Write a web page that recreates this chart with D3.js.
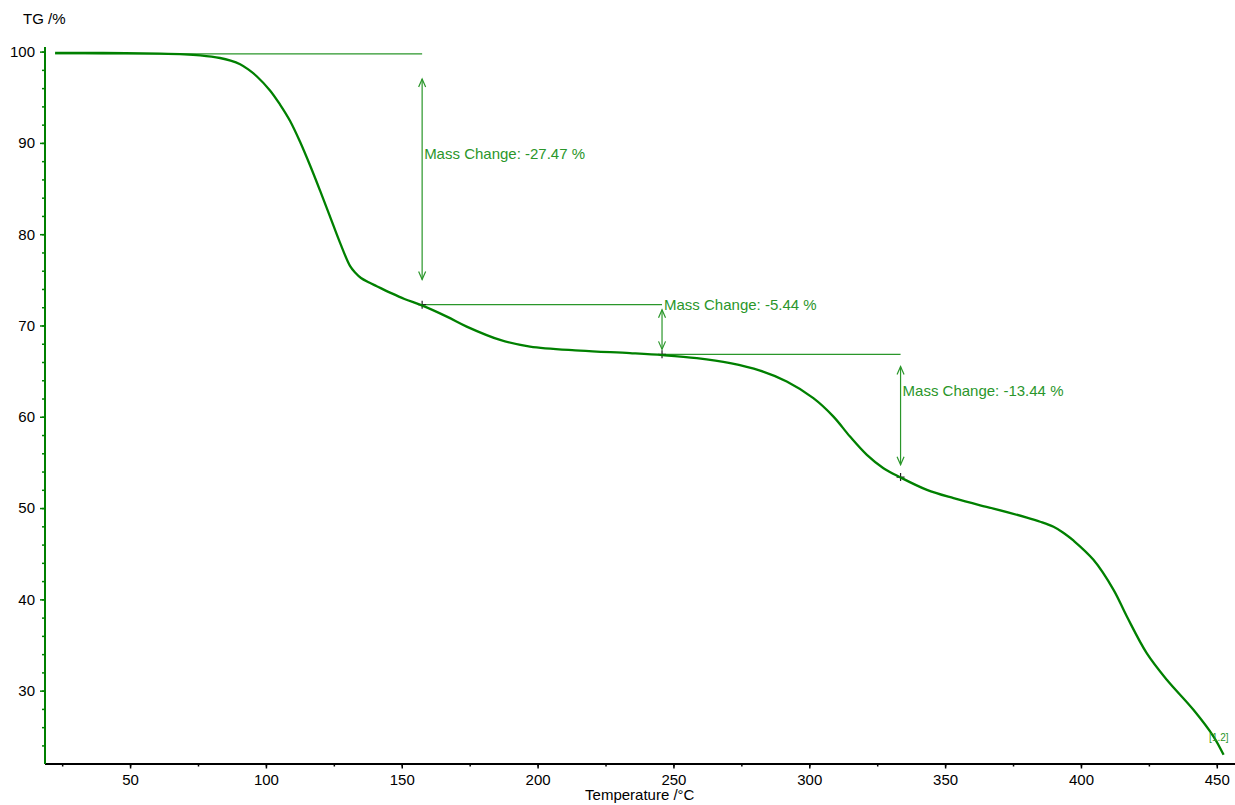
<!DOCTYPE html>
<html>
<head>
<meta charset="utf-8">
<script src="https://cdn.jsdelivr.net/npm/d3@7"></script>
<style>
  body { margin: 0; background: #fff; }
  svg { display: block; font-family: Arial, "Liberation Sans", sans-serif; }
</style>
</head>
<body>
<div id="container"></div>
<script>
/**
 * DATA
 * */
const temps = [22.4, 40, 61.0, 70, 75.8, 83.1, 87, 90.5, 93.5, 96.6, 101.5, 105.2, 108.9, 112.6, 116.3, 119.9,
  123.6, 127.3, 131.0, 133, 135, 138, 140.8, 145.7, 151, 157.4, 166.6, 173.9, 186.2, 197.2, 215.6, 234.0,
  246.1, 258.6, 270.9, 281.9, 291.7, 301.5, 308.9, 315.0, 321.2, 327.3, 333.4, 343.3, 353.1, 362.9,
  367.8, 380.1, 385, 389.9, 393.5, 397.2, 404.6, 412.0, 416.9, 424.2, 431.6, 441.4, 448.8, 452.5];
const mass = [99.86, 99.85, 99.78, 99.7, 99.58, 99.3, 99.02, 98.62, 98.05, 97.3, 95.75, 94.2, 92.4, 90.1, 87.5, 84.8,
  81.93, 79.05, 76.5, 75.75, 75.2, 74.7, 74.3, 73.6, 72.9, 72.2, 70.97, 69.88, 68.42, 67.69, 67.25, 66.97,
  66.75, 66.42, 65.87, 65.05, 63.86, 62.04, 60.02, 57.83, 55.83, 54.37, 53.38, 51.99, 51.08, 50.3,
  49.95, 48.95, 48.5, 47.95, 47.3, 46.45, 44.33, 41.04, 38.12, 34.11, 31.19, 27.90, 24.97, 22.97];

// mass change steps: start temp, end temp, level at start, change
const stepStart = [22.4, 157.5, 245.8];
const stepEnd = [157.5, 245.8, 333.6];
const stepLevel = [99.75, 72.28, 66.84];
const stepChange = [-27.47, -5.44, -13.44];
const labelLevels = [88.85, 72.3, 62.86];

const xTicks = [50, 100, 150, 200, 250, 300, 350, 400, 450];
const xMinor = d3.range(25, 451, 25);
const yTicks = [30, 40, 50, 60, 70, 80, 90, 100];
const yMinor = d3.range(24, 101, 2);

/**
 * CONSTANTS
 * */
const width = 1235, height = 805;
const lineColor = "#008000", noteColor = "#2a962a";

const svg = d3.select("#container").append("svg")
  .attr("width", width).attr("height", height);

const x = d3.scaleLinear().domain([18.5, 456.7]).range([44.5, 1235]);
const y = d3.scaleLinear().domain([22.02, 100.56]).range([763.5, 46.5]);

// minor ticks first
svg.append("g")
  .attr("transform", `translate(0,${y.range()[0]})`)
  .call(d3.axisBottom(x).tickValues(xMinor).tickSize(3).tickFormat(""))
  .call(g => g.select(".domain").remove())
  .call(g => g.selectAll("line").attr("stroke", "#000").attr("stroke-width", 1.5));

svg.append("g")
  .attr("transform", `translate(${x.range()[0]},0)`)
  .call(d3.axisLeft(y).tickValues(yMinor).tickSize(2.5).tickFormat(""))
  .call(g => g.select(".domain").remove())
  .call(g => g.selectAll("line").attr("stroke", lineColor).attr("stroke-width", 1.5));

// x axis
svg.append("g")
  .attr("transform", `translate(0,${y.range()[0]})`)
  .call(d3.axisBottom(x).tickValues(xTicks).tickSize(5).tickSizeOuter(0).tickPadding(6))
  .call(g => g.select(".domain").attr("stroke", "#000").attr("stroke-width", 2))
  .call(g => g.selectAll(".tick line").attr("stroke", "#000").attr("stroke-width", 1.5))
  .call(g => g.selectAll("text").attr("font-size", 15).attr("fill", "#000")
    .attr("font-family", "Arial, 'Liberation Sans', sans-serif"));

// y axis (green like the curve)
svg.append("g")
  .attr("transform", `translate(${x.range()[0]},0)`)
  .call(d3.axisLeft(y).tickValues(yTicks).tickSize(4.5).tickSizeOuter(0).tickPadding(5))
  .call(g => g.select(".domain").attr("stroke", lineColor).attr("stroke-width", 2))
  .call(g => g.selectAll(".tick line").attr("stroke", lineColor).attr("stroke-width", 1.5))
  .call(g => g.selectAll("text").attr("font-size", 15).attr("fill", "#000")
    .attr("font-family", "Arial, 'Liberation Sans', sans-serif"));

// axis titles
svg.append("text")
  .attr("x", 23).attr("y", 24)
  .attr("font-size", 15).attr("fill", "#000")
  .text("TG /%");

svg.append("text")
  .attr("x", (x.range()[0] + x.range()[1]) / 2).attr("y", 800)
  .attr("text-anchor", "middle")
  .attr("font-size", 15).attr("fill", "#000")
  .text("Temperature /°C");

/**
 * ANNOTATIONS
 * */
const steps = stepStart.map((s, i) => ({
  t0: s, t1: stepEnd[i], level: stepLevel[i], change: stepChange[i], labelAt: labelLevels[i]
}));

const notes = svg.append("g");

// level lines
notes.selectAll("line.level")
  .data(steps)
  .join("line")
  .attr("class", "level")
  .attr("x1", d => x(d.t0)).attr("x2", d => x(d.t1))
  .attr("y1", d => y(d.level)).attr("y2", d => y(d.level))
  .attr("stroke", noteColor).attr("stroke-width", 1.2);

// double arrows, inset 10% of the step at each end
steps.forEach(d => {
  const ax = x(d.t1);
  const top = y(d.level + d.change * 0.1);
  const bot = y(d.level + d.change * 0.9);
  notes.append("line")
    .attr("x1", ax).attr("x2", ax).attr("y1", top).attr("y2", bot)
    .attr("stroke", noteColor).attr("stroke-width", 1.2);
  notes.append("path")
    .attr("d", `M${ax - 3.5},${top + 8}L${ax},${top}L${ax + 3.5},${top + 8}` +
      `M${ax - 3.5},${bot - 8}L${ax},${bot}L${ax + 3.5},${bot - 8}`)
    .attr("fill", "none").attr("stroke", noteColor).attr("stroke-width", 1.2);
  notes.append("text")
    .attr("x", ax + 2).attr("y", y(d.labelAt)).attr("dy", "0.35em")
    .attr("font-size", 15).attr("fill", noteColor)
    .text(`Mass Change: ${d.change.toFixed(2)} %`);
});

// TG curve
const line = d3.line()
  .x((d, i) => x(temps[i]))
  .y(d => y(d))
  .curve(d3.curveCatmullRom.alpha(0.5));

svg.append("path")
  .datum(mass)
  .attr("d", line)
  .attr("fill", "none")
  .attr("stroke", lineColor)
  .attr("stroke-width", 2.3)
  .attr("stroke-linejoin", "round");

// cross markers at step ends
notes.selectAll("path.cross")
  .data(steps)
  .join("path")
  .attr("class", "cross")
  .attr("transform", d => `translate(${x(d.t1)},${y(d.level + d.change)})`)
  .attr("d", "M-4,0H4M0,-4V4")
  .attr("stroke", "#222").attr("stroke-width", 1.2);

// curve tag at end
const lastI = temps.length - 1;
svg.append("text")
  .attr("x", x(temps[lastI]) + 5).attr("y", y(mass[lastI]) - 14)
  .attr("text-anchor", "end")
  .attr("font-size", 10).attr("fill", noteColor)
  .text("[1.2]");
</script>
</body>
</html>
